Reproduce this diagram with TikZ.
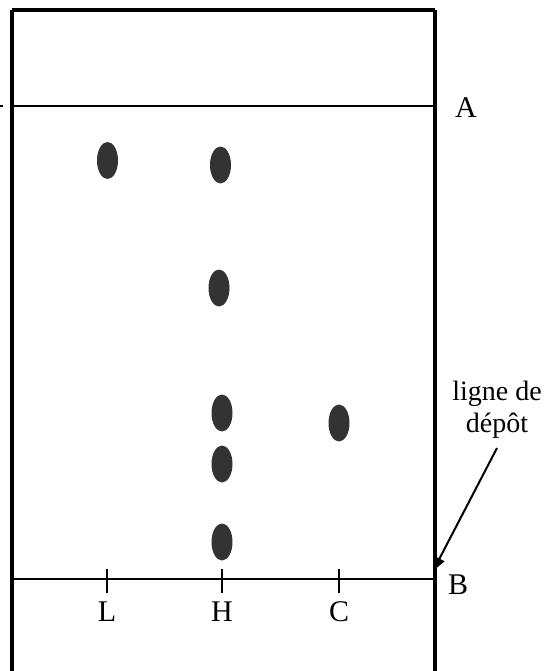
\documentclass[tikz,border=0pt]{standalone}
\usepackage{fontspec}
\setmainfont{Liberation Serif}
\usetikzlibrary{arrows.meta,shapes.geometric}
\definecolor{spotgray}{RGB}{51,51,51}

\begin{document}
\begin{tikzpicture}[x=1pt, y=-1pt, font=\fontsize{30}{34}\selectfont,
  spot/.style={ellipse, fill=spotgray, minimum width=21pt, minimum height=37pt, inner sep=0pt},
  lbl/.style={inner sep=0pt},
  edge/.style={line width=3.2pt},
  line/.style={line width=2.8pt}]
\useasboundingbox (0,0) rectangle (552,671);
\clip (0,0) rectangle (552,671);
% plaque
\draw[edge] (12,10) -- (12,690);
\draw[edge] (435,10) -- (435,690);
\draw[edge] (12,10) -- (435,10);
\coordinate (a0) at (12,106);
\coordinate (a1) at (435,106);
\coordinate (b0) at (12,579);
\coordinate (b1) at (435,579);
\draw[line] (a0) -- (a1);
\draw[line] (b0) -- (b1);
\draw[line width=1.5pt] (0,106) -- (2.5,106);
% depots
\foreach \x/\n in {107/L, 222/H, 339/C} {
  \draw[line] (\x,569) -- (\x,593);
  \node[lbl] (lab\n) at (\x,612) {\n};
}
\node[lbl] (labA) at (466,108) {A};
\node[lbl] (labB) at (458,585) {B};
% taches
\node[spot] (l1) at (107.5,160.5) {};
\node[spot] (h1) at (220.5,165) {};
\node[spot] (h2) at (219,288) {};
\node[spot] (h3) at (222,413) {};
\node[spot] (h4) at (222,464) {};
\node[spot] (h5) at (222,542) {};
\node[spot] (c1) at (339,423) {};
% legende
\node[lbl, align=center, font=\fontsize{28}{32}\selectfont] (depot) at (497,410) {ligne de\\[0pt]dépôt};
\coordinate (tip) at (433,571);
\draw[-{Triangle[length=14pt, width=11pt]}, line width=2pt] (497,448) -- (tip);
\end{tikzpicture}
\end{document}
